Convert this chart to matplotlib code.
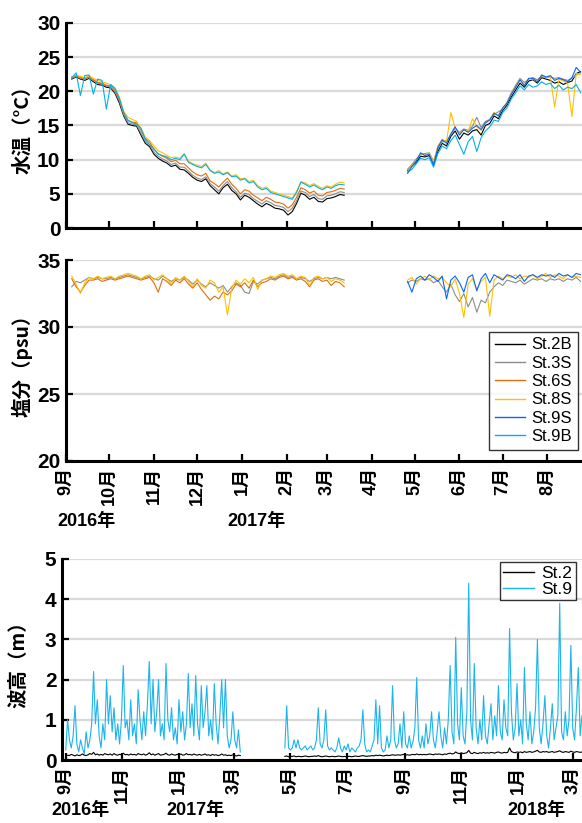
"""
Water temperature, salinity and wave height at the monitoring stations,
Sep 2016 - Mar 2018.
"""
import pandas as pd
import matplotlib

matplotlib.use("Agg")
import matplotlib.pyplot as plt
import matplotlib.transforms as mtransforms
from matplotlib import font_manager
from matplotlib.lines import Line2D

# ---------------------------------------------------------------- data
stations = ["St.2B", "St.3S", "St.6S", "St.8S", "St.9S", "St.9B"]

# temperature / salinity: one value every 3 days
ts_start_1 = "2016-09-05"
ts_start_2 = "2017-04-26"

temp1_st2b = [21.8, 22.1, 21.8, 21.6, 21.9, 21.4, 21.0, 20.9, 20.6, 20.5,
              19.7, 18.3, 16.4, 15.2, 15.0, 14.9, 13.6, 12.4, 11.9, 10.8,
              10.2, 9.8, 9.5, 9.0, 9.2, 8.6, 8.5, 8.0, 7.4, 7.0,
              6.8, 7.2, 6.2, 5.6, 5.0, 5.9, 6.4, 5.5, 5.0, 4.1,
              4.8, 4.5, 4.0, 3.5, 3.1, 3.6, 3.3, 2.9, 2.8, 2.6,
              1.9, 2.4, 3.6, 5.1, 4.8, 4.2, 4.5, 3.9, 3.8, 4.3,
              4.4, 4.6, 4.9, 4.8]
temp1_st3s = [21.9, 22.2, 21.9, 21.8, 22.0, 21.6, 21.2, 21.1, 20.8, 20.6,
              19.9, 18.6, 16.6, 15.4, 15.2, 15.1, 13.9, 12.7, 12.2, 11.1,
              10.5, 10.1, 9.8, 9.3, 9.5, 8.9, 8.9, 8.3, 7.7, 7.3,
              7.1, 7.5, 6.5, 6.0, 5.4, 6.2, 6.8, 5.9, 5.3, 4.5,
              5.1, 4.9, 4.3, 3.9, 3.5, 4.0, 3.7, 3.3, 3.2, 3.0,
              2.4, 2.9, 4.0, 5.4, 5.2, 4.6, 4.9, 4.3, 4.2, 4.7,
              4.8, 5.0, 5.3, 5.2]
temp1_st6s = [22.1, 22.3, 22.0, 21.9, 22.1, 21.7, 21.3, 21.2, 20.9, 20.8,
              20.1, 18.9, 16.9, 15.7, 15.5, 15.4, 14.3, 13.1, 12.6, 11.5,
              10.9, 10.5, 10.2, 9.7, 9.9, 9.4, 9.4, 8.8, 8.2, 7.8,
              7.6, 8.0, 6.9, 6.5, 6.0, 6.7, 7.3, 6.4, 5.8, 5.0,
              5.6, 5.4, 4.8, 4.4, 4.0, 4.5, 4.2, 3.8, 3.7, 3.5,
              2.9, 3.4, 4.5, 5.9, 5.6, 5.1, 5.4, 4.8, 4.7, 5.2,
              5.3, 5.5, 5.8, 5.7]
temp1_st8s = [22.1, 22.4, 22.2, 22.0, 22.3, 21.9, 21.6, 21.4, 21.2, 21.0,
              20.5, 19.2, 17.1, 16.2, 15.9, 15.6, 14.6, 13.3, 12.8, 12.0,
              11.3, 11.0, 10.6, 10.3, 10.4, 10.2, 10.9, 9.8, 9.4, 9.2,
              9.0, 9.5, 8.5, 8.1, 8.4, 7.9, 8.2, 7.6, 7.8, 7.2,
              7.3, 6.8, 7.0, 6.2, 5.8, 6.0, 5.4, 5.2, 5.0, 4.8,
              4.6, 4.4, 5.4, 6.8, 6.6, 6.2, 6.5, 6.1, 5.8, 6.2,
              6.0, 6.4, 6.7, 6.6]
temp1_st9b = [22.0, 22.7, 19.4, 22.3, 22.4, 19.6, 21.8, 21.6, 17.4, 21.0,
              20.4, 19.0, 16.9, 15.8, 15.4, 15.2, 14.6, 13.0, 12.2, 11.6,
              10.8, 10.6, 10.4, 10.0, 10.2, 10.0, 10.8, 9.6, 9.3, 9.0,
              8.8, 9.3, 8.4, 8.0, 8.2, 7.8, 8.1, 7.5, 7.6, 7.0,
              7.2, 6.6, 6.8, 6.0, 5.6, 5.8, 5.2, 5.0, 4.8, 4.6,
              4.4, 4.2, 5.2, 6.7, 6.4, 6.0, 6.3, 5.9, 5.6, 6.0,
              5.8, 6.2, 6.4, 6.3]

temp2_st2b = [8.4, 9.1, 9.6, 10.5, 10.4, 10.6, 9.5, 11.2, 12.4, 12.0,
              13.4, 14.2, 13.0, 13.9, 13.6, 14.2, 14.4, 13.6, 15.0, 15.3,
              16.4, 16.0, 17.2, 18.0, 19.2, 20.2, 21.2, 20.6, 21.5, 21.7,
              21.2, 22.0, 21.8, 21.6, 21.2, 21.4, 21.0, 21.3, 21.5, 22.6,
              22.9]
temp2_st3s = [8.6, 9.3, 10.1, 10.8, 10.9, 11.0, 9.8, 11.6, 12.6, 12.8,
              13.6, 14.6, 14.0, 14.5, 14.3, 14.9, 16.2, 14.7, 15.6, 15.9,
              16.6, 17.0, 17.4, 18.4, 19.8, 20.9, 21.9, 21.3, 21.8, 22.0,
              21.7, 22.2, 22.0, 22.1, 21.9, 22.0, 21.8, 21.6, 21.9, 22.4,
              22.7]
temp2_st8s = [8.3, 9.2, 9.9, 10.9, 10.7, 11.0, 9.6, 12.0, 13.0, 12.6,
              16.9, 14.6, 13.8, 14.4, 14.1, 16.0, 14.8, 14.3, 15.3, 15.9,
              16.9, 16.5, 17.5, 18.3, 19.7, 20.7, 21.8, 21.0, 21.9, 21.8,
              21.4, 22.3, 22.0, 22.2, 17.7, 21.8, 21.5, 21.2, 16.3, 22.6,
              22.5]
temp2_st9s = [8.0, 9.0, 9.8, 11.0, 10.6, 10.8, 9.2, 11.8, 12.9, 12.4,
              13.8, 14.8, 13.6, 14.4, 14.0, 14.6, 15.0, 14.4, 15.4, 15.8,
              16.8, 16.4, 17.6, 18.3, 19.6, 20.6, 21.7, 20.8, 21.9, 21.9,
              21.4, 22.4, 22.1, 22.3, 21.6, 21.9, 21.7, 21.4, 22.0, 23.5,
              22.8]
temp2_st9b = [8.2, 8.6, 9.4, 10.2, 10.0, 10.3, 8.9, 10.9, 12.0, 11.6,
              12.8, 13.6, 12.2, 10.8, 12.6, 13.4, 11.2, 13.2, 14.2, 14.8,
              15.8, 15.6, 16.9, 17.6, 18.9, 19.8, 20.8, 20.2, 21.0, 20.6,
              20.8, 21.4, 21.0, 21.2, 20.4, 20.9, 20.2, 20.6, 20.4, 21.0,
              19.8]

sal1_st3s = [33.0, 33.4, 33.3, 33.5, 33.7, 33.6, 33.7, 33.6, 33.6, 33.7,
             33.6, 33.7, 33.8, 33.9, 33.8, 33.7, 33.6, 33.7, 33.8, 33.6,
             33.5, 33.8, 33.6, 33.4, 33.6, 33.5, 33.7, 33.5, 33.2, 33.5,
             33.2, 33.0, 33.3, 33.1, 32.9, 33.1, 32.6, 33.0, 33.3, 33.1,
             32.6, 32.5, 33.4, 33.2, 33.5, 33.6, 33.7, 33.6, 33.8, 33.9,
             33.7, 33.8, 33.6, 33.7, 33.6, 33.4, 33.6, 33.7, 33.6, 33.7,
             33.6, 33.7, 33.6, 33.5]
sal1_st6s = [33.6, 33.0, 32.6, 33.1, 33.5, 33.5, 33.6, 33.4, 33.5, 33.6,
             33.5, 33.6, 33.7, 33.8, 33.7, 33.6, 33.5, 33.6, 33.7, 33.3,
             32.6, 33.6, 33.4, 33.1, 33.5, 33.3, 33.6, 33.2, 32.9, 33.3,
             32.8, 32.4, 32.0, 32.3, 32.1, 32.6, 32.4, 32.7, 33.2, 33.0,
             33.3, 32.9, 33.5, 33.0, 33.3, 33.4, 33.6, 33.5, 33.7, 33.8,
             33.6, 33.7, 33.5, 33.6, 33.4, 33.0, 33.5, 33.6, 33.4, 33.5,
             33.1, 33.4, 33.3, 33.0]
sal1_st8s = [33.8, 33.2, 32.5, 33.3, 33.7, 33.6, 33.8, 33.6, 33.7, 33.8,
             33.6, 33.8, 33.9, 34.0, 33.9, 33.8, 33.6, 33.8, 33.9, 33.5,
             33.7, 33.9, 33.6, 33.2, 33.7, 33.5, 33.8, 33.4, 33.0, 33.6,
             33.1, 32.9, 33.5, 33.3, 32.6, 33.0, 30.9, 32.9, 33.5, 33.2,
             33.6, 33.3, 33.7, 32.8, 33.5, 33.6, 33.8, 33.7, 33.9, 34.0,
             33.8, 33.9, 33.6, 33.8, 33.7, 33.1, 33.7, 33.8, 33.6, 33.7,
             33.4, 33.6, 33.5, 33.3]

sal2_st3s = [33.3, 33.5, 33.4, 33.6, 33.5, 33.6, 33.3, 33.5, 33.0, 32.6,
             33.2, 32.4, 31.9, 32.5, 31.5, 32.2, 31.1, 32.0, 31.8, 32.6,
             33.0, 33.3, 33.1, 33.5, 33.4, 33.3, 33.5, 33.2, 33.4, 33.6,
             33.5, 33.6, 33.4, 33.6, 33.5, 33.6, 33.4, 33.6, 33.5, 33.7,
             33.4]
sal2_st8s = [33.5, 33.7, 33.2, 33.6, 33.8, 33.5, 33.8, 33.6, 33.7, 33.3,
             33.0, 33.6, 32.5, 30.7, 33.2, 33.6, 32.8, 33.4, 33.7, 30.8,
             33.5, 33.8, 33.6, 33.8, 33.7, 33.9, 33.6, 33.8, 33.7, 33.9,
             33.6, 33.8, 34.0, 33.7, 33.9, 33.8, 33.6, 33.9, 33.7, 33.8,
             33.7]
sal2_st9s = [33.4, 32.6, 33.6, 33.8, 33.5, 33.9, 33.7, 33.4, 33.8, 32.1,
             33.5, 33.8, 33.3, 32.6, 33.7, 33.9, 32.7, 33.6, 34.0, 33.3,
             33.9, 33.7, 33.5, 33.9, 33.8, 33.6, 33.9, 33.4, 33.8, 33.9,
             33.7, 33.9, 33.8, 33.9, 33.7, 34.0, 33.8, 33.9, 33.7, 34.0,
             33.9]

# wave height: one value every 2 days
wave_start_1 = "2016-09-01"
wave_start_2 = "2017-04-25"

wave1_st2 = [0.10, 0.12, 0.11, 0.14, 0.12, 0.10, 0.13, 0.11, 0.12, 0.15,
             0.12, 0.11, 0.13, 0.16, 0.14, 0.19, 0.13, 0.15, 0.12, 0.14,
             0.12, 0.16, 0.14, 0.13, 0.15, 0.12, 0.16, 0.13, 0.12, 0.14,
             0.13, 0.17, 0.13, 0.14, 0.12, 0.15, 0.13, 0.14, 0.12, 0.16,
             0.14, 0.13, 0.15, 0.12, 0.14, 0.18, 0.13, 0.15, 0.12, 0.14,
             0.16, 0.12, 0.13, 0.14, 0.17, 0.13, 0.12, 0.15, 0.13, 0.12,
             0.14, 0.13, 0.15, 0.12, 0.13, 0.16, 0.13, 0.14, 0.12, 0.15,
             0.13, 0.12, 0.14, 0.12, 0.13, 0.15, 0.12, 0.13, 0.11, 0.14,
             0.12, 0.13, 0.11, 0.12, 0.15, 0.12, 0.13, 0.11, 0.12, 0.11,
             0.13, 0.11, 0.10, 0.12, 0.11]
wave1_st9 = [0.25, 1.0, 0.5, 0.3, 0.6, 1.35, 0.4, 0.2, 0.5, 0.3,
             0.15, 0.7, 0.3, 0.5, 0.9, 2.2, 0.9, 1.5, 0.6, 0.3,
             0.9, 0.5, 2.0, 0.9, 1.6, 0.7, 1.3, 0.5, 0.9, 0.4,
             1.0, 2.35, 0.8, 1.0, 0.5, 1.5, 0.6, 0.9, 0.4, 1.75,
             1.0, 0.5, 1.2, 0.6, 1.4, 2.45, 0.9, 2.0, 0.7, 1.2,
             2.0, 0.6, 0.9, 0.5, 2.4, 1.0, 0.7, 1.3, 0.5, 0.8,
             0.4, 1.5, 0.7, 1.2, 0.5, 0.9, 2.15, 0.8, 1.4, 0.6,
             2.1, 0.9, 0.5, 1.85, 0.8, 1.2, 1.85, 0.6, 1.0, 0.5,
             1.9, 0.9, 0.4, 1.1, 2.0, 0.8, 2.0, 0.6, 0.3, 0.5,
             1.2, 0.5, 0.3, 0.75, 0.2]

wave2_st2 = [0.09, 0.10, 0.08, 0.09, 0.09, 0.10, 0.08, 0.09, 0.09, 0.08,
             0.09, 0.10, 0.09, 0.08, 0.09, 0.09, 0.10, 0.09, 0.11, 0.09,
             0.08, 0.09, 0.10, 0.09, 0.08, 0.09, 0.09, 0.08, 0.09, 0.10,
             0.09, 0.08, 0.09, 0.08, 0.09, 0.09, 0.08, 0.09, 0.10, 0.09,
             0.09, 0.10, 0.11, 0.10, 0.09, 0.10, 0.10, 0.11, 0.10, 0.12,
             0.11, 0.12, 0.11, 0.10, 0.11, 0.12, 0.11, 0.12, 0.13, 0.12,
             0.12, 0.13, 0.12, 0.13, 0.14, 0.12, 0.13, 0.12, 0.13, 0.14,
             0.13, 0.15, 0.13, 0.14, 0.13, 0.14, 0.13, 0.14, 0.15, 0.14,
             0.13, 0.15, 0.14, 0.15, 0.14, 0.13, 0.15, 0.14, 0.16, 0.17,
             0.15, 0.16, 0.20, 0.17, 0.16, 0.18, 0.16, 0.17, 0.18, 0.24,
             0.17, 0.16, 0.19, 0.17, 0.16, 0.18, 0.17, 0.19, 0.17, 0.18,
             0.17, 0.19, 0.18, 0.17, 0.19, 0.20, 0.18, 0.17, 0.19, 0.18,
             0.19, 0.30, 0.21, 0.19, 0.18, 0.20, 0.19, 0.20, 0.18, 0.21,
             0.19, 0.20, 0.21, 0.19, 0.20, 0.22, 0.24, 0.20, 0.19, 0.21,
             0.20, 0.21, 0.19, 0.20, 0.21, 0.19, 0.20, 0.21, 0.23, 0.20,
             0.19, 0.21, 0.20, 0.19, 0.22, 0.20, 0.19, 0.21, 0.20, 0.19,
             0.20]
wave2_st9 = [0.3, 1.35, 0.3, 0.25, 0.3, 0.5, 0.3, 0.5, 0.3, 0.25,
             0.3, 0.35, 0.25, 0.3, 0.35, 0.25, 0.3, 0.5, 1.3, 0.4,
             0.3, 0.5, 1.25, 0.35, 0.25, 0.3, 0.25, 0.2, 0.3, 0.55,
             0.3, 0.2, 0.35, 0.25, 0.4, 0.2, 0.3, 0.25, 0.2, 0.3,
             0.35, 0.5, 1.25, 0.4, 0.2, 0.25, 0.2, 0.35, 0.5, 1.5,
             0.4, 1.35, 0.3, 0.2, 0.25, 0.6, 0.3, 0.5, 1.85, 0.5,
             0.3, 0.4, 0.9, 0.3, 1.2, 0.4, 0.3, 0.6, 0.3, 0.45,
             0.8, 2.05, 0.5, 0.3, 0.6, 0.3, 0.9, 0.4, 0.6, 1.2,
             0.5, 0.3, 0.7, 1.2, 0.6, 0.3, 0.8, 0.4, 1.0, 2.35,
             0.7, 0.4, 3.05, 0.9, 0.5, 1.8, 0.6, 0.4, 1.2, 4.4,
             1.0, 0.5, 2.4, 0.8, 0.4, 1.0, 0.5, 1.6, 0.6, 0.4,
             0.9, 1.4, 0.5, 1.1, 0.6, 1.85, 0.7, 0.5, 1.5, 0.8,
             0.6, 3.27, 1.2, 0.5, 0.8, 1.9, 0.6, 1.0, 0.4, 2.3,
             0.9, 0.5, 1.2, 0.4, 0.7, 1.3, 3.0, 0.8, 0.4, 0.9,
             1.6, 0.6, 0.3, 0.8, 1.4, 0.5, 0.8, 1.1, 3.9, 0.7,
             0.5, 1.2, 0.6, 1.0, 2.85, 0.8, 0.5, 1.3, 2.3, 0.6,
             1.1]

month_labels_a = ["9月", "10月", "11月", "12月", "1月", "2月",
                  "3月", "4月", "5月", "6月", "7月", "8月"]
month_labels_b = ["9月", "11月", "1月", "3月", "5月",
                  "7月", "9月", "11月", "1月", "3月"]

# ---------------------------------------------------------------- style
colors = {
    "St.2B": "#000000",
    "St.3S": "#8C8C8C",
    "St.6S": "#E36C0A",
    "St.8S": "#FFC000",
    "St.9S": "#0A64FF",
    "St.9B": "#00B0F0",
}
wave_colors = {"St.2": "#000000", "St.9": "#1CB4EC"}

names = {f.name for f in font_manager.fontManager.ttflist}
narrow = "Liberation Sans Narrow" if "Liberation Sans Narrow" in names else "Liberation Sans"
CJK = "Noto Sans CJK JP"
plt.rcParams["font.family"] = ["Liberation Sans", CJK]
plt.rcParams["font.weight"] = "bold"

GRID = "#D9D9D9"


def dates(start, values, step):
    return pd.date_range(start, periods=len(values), freq=f"{step}D")


def style_axes(ax):
    for side in ("top", "right"):
        ax.spines[side].set_visible(False)
    for side in ("left", "bottom"):
        ax.spines[side].set_linewidth(2.2)
    ax.tick_params(axis="both", direction="in", width=1.6, length=5)
    ax.tick_params(axis="y", labelsize=15, pad=4)
    ax.yaxis.grid(True, color=GRID, linewidth=1.6)
    ax.set_axisbelow(True)


def year_label(ax, day, text, y):
    trans = mtransforms.blended_transform_factory(ax.transData, ax.transAxes)
    ax.text(pd.Timestamp(day), y, text, transform=trans, ha="center", va="center",
            fontsize=13, family=[narrow, CJK], clip_on=False)


fig = plt.figure(figsize=(5.82, 8.23), dpi=100)
ax_t = fig.add_axes([66 / 582, 595 / 823, 516 / 582, 205 / 823])
ax_s = fig.add_axes([66 / 582, 362 / 823, 516 / 582, 201 / 823])
ax_w = fig.add_axes([62 / 582, 63 / 823, 520 / 582, 201 / 823])

# temperature
for name, vals, z in [("St.2B", temp1_st2b, 2), ("St.3S", temp1_st3s, 3),
                      ("St.6S", temp1_st6s, 4), ("St.8S", temp1_st8s, 5),
                      ("St.9B", temp1_st9b, 6)]:
    ax_t.plot(dates(ts_start_1, vals, 3), vals, color=colors[name], lw=0.8, zorder=z)
for name, vals, z in [("St.2B", temp2_st2b, 2), ("St.3S", temp2_st3s, 3),
                      ("St.8S", temp2_st8s, 4), ("St.9B", temp2_st9b, 5),
                      ("St.9S", temp2_st9s, 6)]:
    ax_t.plot(dates(ts_start_2, vals, 3), vals, color=colors[name], lw=0.8, zorder=z)

# salinity
for name, vals, z in [("St.3S", sal1_st3s, 3), ("St.6S", sal1_st6s, 4),
                      ("St.8S", sal1_st8s, 5)]:
    ax_s.plot(dates(ts_start_1, vals, 3), vals, color=colors[name], lw=0.8, zorder=z)
for name, vals, z in [("St.3S", sal2_st3s, 3), ("St.8S", sal2_st8s, 4),
                      ("St.9S", sal2_st9s, 5)]:
    ax_s.plot(dates(ts_start_2, vals, 3), vals, color=colors[name], lw=0.8, zorder=z)

# wave height
for start, vals in [(wave_start_1, wave1_st2), (wave_start_2, wave2_st2)]:
    ax_w.plot(dates(start, vals, 2), vals, color=wave_colors["St.2"], lw=0.8, zorder=3)
for start, vals in [(wave_start_1, wave1_st9), (wave_start_2, wave2_st9)]:
    ax_w.plot(dates(start, vals, 2), vals, color=wave_colors["St.9"], lw=0.8, zorder=2)

months_a = pd.date_range("2016-09-01", "2017-08-01", freq="MS")
months_b = pd.date_range("2016-09-01", "2018-03-01", freq="2MS")

for ax in (ax_t, ax_s):
    style_axes(ax)
    ax.set_xlim(pd.Timestamp("2016-09-01"), pd.Timestamp("2017-08-25"))
    ax.set_xticks(months_a)
ax_t.set_xticklabels([])
ax_s.set_xticklabels(month_labels_a, rotation=90, fontsize=13, family=[narrow, CJK])
ax_s.tick_params(axis="x", pad=4)

ax_t.set_ylim(0, 30)
ax_t.set_yticks([0, 5, 10, 15, 20, 25, 30])
ax_s.set_ylim(20, 35)
ax_s.set_yticks([20, 25, 30, 35])

style_axes(ax_w)
ax_w.set_xlim(pd.Timestamp("2016-08-28"), pd.Timestamp("2018-03-11"))
ax_w.set_xticks(months_b)
ax_w.set_xticklabels(month_labels_b, rotation=90, fontsize=13, family=[narrow, CJK])
ax_w.tick_params(axis="x", pad=4)
ax_w.set_ylim(0, 5)
ax_w.set_yticks([0, 1, 2, 3, 4, 5])

year_label(ax_s, "2016-09-15", "2016年", -0.30)
year_label(ax_s, "2017-01-11", "2017年", -0.30)
year_label(ax_w, "2016-09-17", "2016年", -0.25)
year_label(ax_w, "2017-01-19", "2017年", -0.25)
year_label(ax_w, "2018-01-21", "2018年", -0.25)

ylab = dict(rotation=90, ha="center", va="center", fontsize=14, family=[CJK])
fig.text(23 / 582, 1 - 125 / 823, "水温（°C）", **ylab)
fig.text(22 / 582, 1 - 361 / 823, "塩分（psu）", **ylab)
fig.text(19 / 582, 1 - 660 / 823, "波高（m）", **ylab)

handles = [Line2D([], [], color=colors[s], lw=1.0) for s in stations]
leg = ax_s.legend(handles, stations, loc="lower right", bbox_to_anchor=(0.992, 0.055),
                  borderaxespad=0, frameon=True, fancybox=False, handlelength=1.8,
                  handletextpad=0.4, labelspacing=0.2, borderpad=0.35,
                  prop={"family": "Liberation Sans", "weight": "normal", "size": 12})
leg.get_frame().set_edgecolor("black")
leg.get_frame().set_linewidth(1.0)

wave_names = ["St.2", "St.9"]
handles = [Line2D([], [], color=wave_colors[s], lw=1.0) for s in wave_names]
leg = ax_w.legend(handles, wave_names, loc="upper right", bbox_to_anchor=(0.988, 0.985),
                  borderaxespad=0, frameon=True, fancybox=False, handlelength=1.8,
                  handletextpad=0.4, labelspacing=0.05, borderpad=0.2,
                  prop={"family": "Liberation Sans", "weight": "normal", "size": 12.5})
leg.get_frame().set_edgecolor("black")
leg.get_frame().set_linewidth(1.0)

fig.savefig("out.png", dpi=100)
